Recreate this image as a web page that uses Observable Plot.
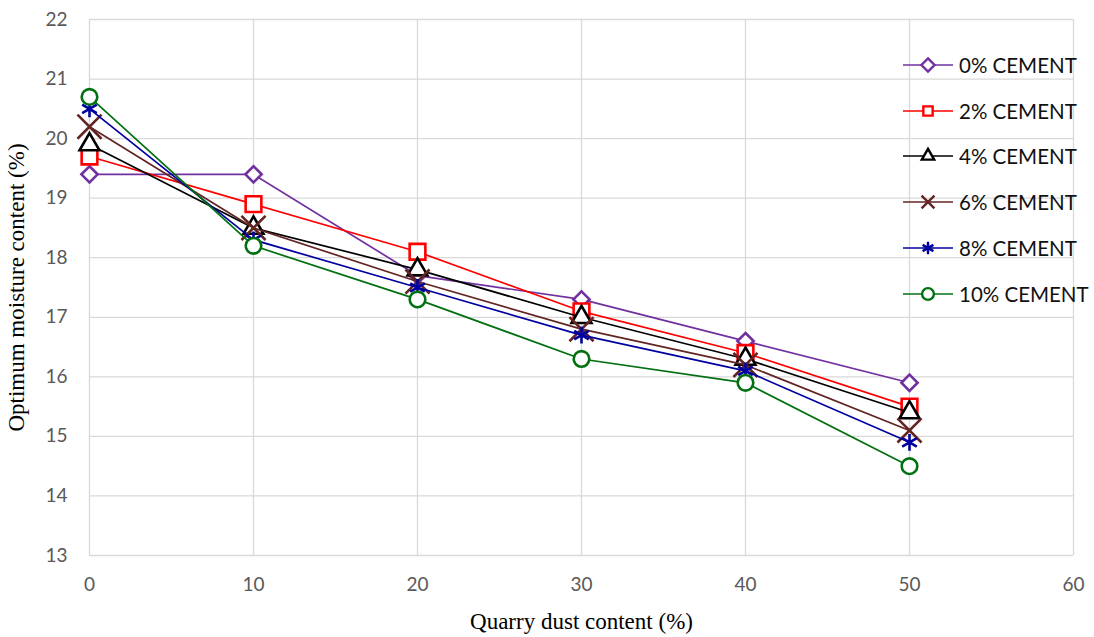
<!DOCTYPE html>
<html><head><meta charset="utf-8">
<script src="https://cdn.jsdelivr.net/npm/d3@7"></script>
<script src="https://cdn.jsdelivr.net/npm/@observablehq/plot@0.6"></script>
<style>
body{margin:0;background:#fff}
#wrap{position:relative;width:1094px;height:637px}
g[aria-label="x-axis label"] text, g[aria-label="y-axis label"] text{font-family:"Liberation Serif",serif;font-size:23px;fill:#000}
#legend{position:absolute;left:903px;top:42px;font-family:Lato,"Open Sans",sans-serif;font-size:20.5px;color:#111}
#legend .row{height:45.8px;display:flex;align-items:center}
#legend svg{margin-right:6px}
</style>
</head><body><div id="wrap"><div id="legend"></div></div>
<script>
const dust = [0, 10, 20, 30, 40, 50];
const cement0 = [19.4, 19.4, 17.7, 17.3, 16.6, 15.9];
const cement2 = [19.7, 18.9, 18.1, 17.1, 16.4, 15.5];
const cement4 = [19.9, 18.5, 17.8, 17.0, 16.3, 15.4];
const cement6 = [20.2, 18.5, 17.6, 16.8, 16.2, 15.1];
const cement8 = [20.5, 18.3, 17.5, 16.7, 16.1, 14.9];
const cement10 = [20.7, 18.2, 17.3, 16.3, 15.9, 14.5];
const seriesNames = ["0% CEMENT", "2% CEMENT", "4% CEMENT", "6% CEMENT", "8% CEMENT", "10% CEMENT"];
const seriesValues = [cement0, cement2, cement4, cement6, cement8, cement10];
const seriesColors = ["#7030A0", "#FF0000", "#000000", "#632523", "#0000A0", "#007010"];
const seriesSymbols = ["diamond2", "square2", "triangle2", "times", "asterisk", "circle"];
const seriesRadius = [7.3, 10, 9.5, 11, 8, 7.8];
const xTicks = [0, 10, 20, 30, 40, 50, 60];
const yTicks = [13, 14, 15, 16, 17, 18, 19, 20, 21, 22];

const data = seriesNames.flatMap((s, i) => dust.map((d, j) => ({series: s, dust: d, value: seriesValues[i][j]})));

const marks = [
  Plot.ruleY(yTicks, {stroke: "#D9D9D9", strokeWidth: 1.3}),
  Plot.ruleX(xTicks, {stroke: "#D9D9D9", strokeWidth: 1.3}),
  Plot.axisX(xTicks, {tickSize: 0, tickPadding: 22, fontSize: 19, fill: "#595959", fontFamily: "Lato, sans-serif",
    tickFormat: "d", label: "Quarry dust content (%)", labelAnchor: "center", labelOffset: 73, labelArrow: "none"}),
  Plot.axisY(yTicks, {tickSize: 0, tickPadding: 22, fontSize: 19, fill: "#595959", fontFamily: "Lato, sans-serif",
    tickFormat: "d", label: "Optimum moisture content (%)", labelAnchor: "center", labelOffset: 82, labelArrow: "none"})
];
seriesNames.forEach((s, i) => {
  const sub = data.filter(d => d.series === s);
  marks.push(Plot.line(sub, {x: "dust", y: "value", stroke: seriesColors[i], strokeWidth: 1.7}));
  marks.push(Plot.dot(sub, {x: "dust", y: "value", stroke: seriesColors[i], symbol: () => seriesSymbols[i],
    fill: "white", r: seriesRadius[i], strokeWidth: 2.6}));
});

const chart = Plot.plot({
  width: 1094, height: 637,
  marginLeft: 89, marginRight: 21, marginTop: 19, marginBottom: 82,
  x: {domain: [0, 60]},
  y: {domain: [13, 22]},
  symbol: {type: "identity"},
  style: {background: "white"},
  marks
});
document.getElementById("wrap").prepend(chart);

// legend
const legend = document.getElementById("legend");
const symMap = {diamond2: d3.symbolDiamond2, square2: d3.symbolSquare2, triangle2: d3.symbolTriangle2,
  times: d3.symbolTimes, asterisk: d3.symbolAsterisk, circle: d3.symbolCircle};
seriesNames.forEach((s, i) => {
  const row = document.createElement("div");
  row.className = "row";
  const svg = d3.create("svg").attr("width", 50).attr("height", 22);
  svg.append("line").attr("x1", 0).attr("x2", 50).attr("y1", 11).attr("y2", 11)
    .attr("stroke", seriesColors[i]).attr("stroke-width", 1.7);
  svg.append("path").attr("d", d3.symbol(symMap[seriesSymbols[i]], 110)())
    .attr("transform", "translate(25,11)").attr("fill", "white")
    .attr("stroke", seriesColors[i]).attr("stroke-width", 2.4);
  row.appendChild(svg.node());
  const t = document.createElement("span");
  t.textContent = s;
  row.appendChild(t);
  legend.appendChild(row);
});
</script>
</body></html>
